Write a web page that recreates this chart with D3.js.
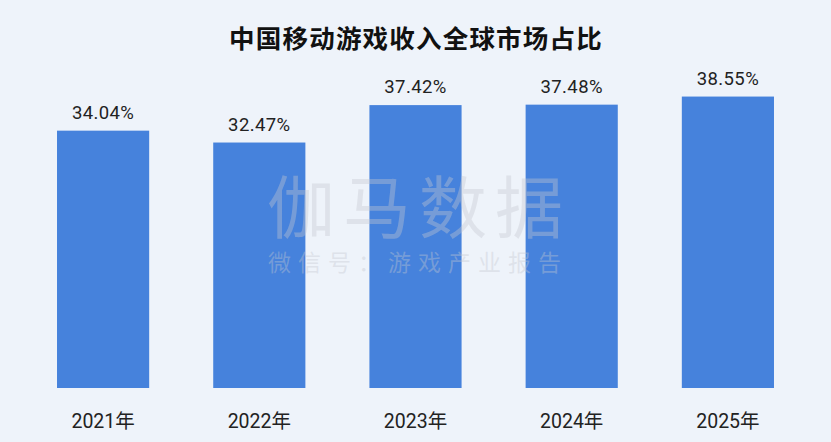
<!DOCTYPE html>
<html><head><meta charset="utf-8">
<script src="https://cdn.jsdelivr.net/npm/d3@7"></script>
<style>html,body{margin:0;padding:0;background:#eef3fa;}svg{display:block;}</style>
</head><body>
<svg id="c" width="831" height="442"></svg>
<script>
const title = "中国移动游戏收入全球市场占比";
const categories = ["2021年","2022年","2023年","2024年","2025年"];
const values = [34.04, 32.47, 37.42, 37.48, 38.55];
const valueLabels = ["34.04%","32.47%","37.42%","37.48%","38.55%"];
const watermark = "伽马数据";
const watermarkSub = "微信号：游戏产业报告";

const W = 831, H = 442;
const svg = d3.select("#c");
svg.append("rect").attr("width", W).attr("height", H).attr("fill", "#eef3fa");

const x = d3.scaleBand().domain(categories).range([25, 806]).paddingInner(0.41).paddingOuter(0.205);
const y = d3.scaleLinear().domain([0, 40]).range([388, 388 - 40 * 7.56]);

svg.append("text").attr("x", 416).attr("y", 48).attr("text-anchor", "middle")
  .attr("font-family", "'Noto Sans CJK SC'").attr("font-weight", 700)
  .attr("font-size", 25.5).attr("letter-spacing", 1.2).attr("fill", "#111").text(title);

svg.selectAll("rect.bar").data(values).join("rect").attr("class", "bar")
  .attr("x", (d, i) => x(categories[i])).attr("width", x.bandwidth())
  .attr("y", d => y(d)).attr("height", d => y(0) - y(d))
  .attr("fill", "#4682dc");

svg.selectAll("text.val").data(values).join("text").attr("class", "val")
  .attr("x", (d, i) => x(categories[i]) + x.bandwidth() / 2)
  .attr("y", d => y(d) - 12).attr("text-anchor", "middle")
  .attr("font-family", "Roboto").attr("font-size", 18.5).attr("letter-spacing", 0.4)
  .attr("fill", "#222").text((d, i) => valueLabels[i]);

const xAxis = d3.axisBottom(x).tickSize(0).tickPadding(0);
const gx = svg.append("g").attr("transform", "translate(0,428)").call(xAxis);
gx.select(".domain").remove();
gx.selectAll("text").attr("dy", 0).attr("font-family", "Roboto, 'Noto Sans CJK SC'")
  .attr("font-size", 19.5).attr("fill", "#222");

const wm = svg.append("text").attr("text-anchor", "middle")
  .attr("font-family", "'Noto Sans CJK SC'")
  .attr("fill", "#c4c8d0").attr("fill-opacity", 0.38);
wm.append("tspan").attr("x", 419).attr("y", 233).attr("font-size", 68).attr("letter-spacing", 8).text(watermark);
wm.append("tspan").attr("x", 418).attr("y", 271).attr("font-size", 23).attr("letter-spacing", 7).text(watermarkSub);
</script>
</body></html>
